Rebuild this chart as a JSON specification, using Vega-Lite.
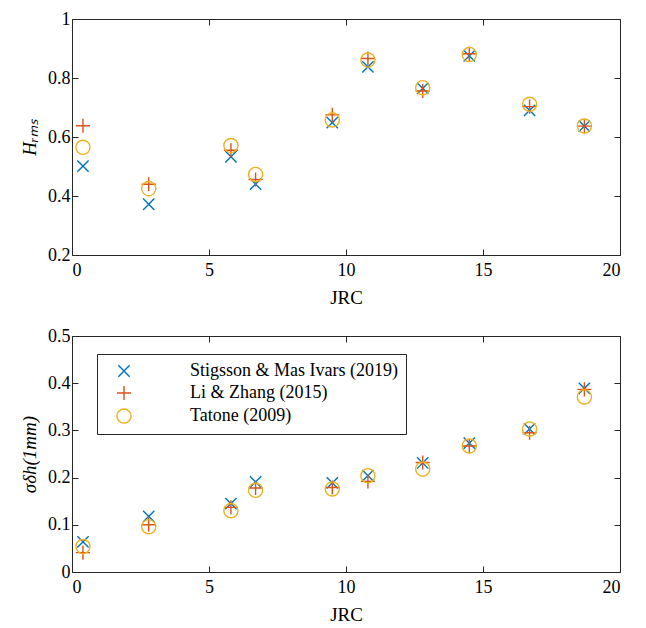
{
  "$schema": "https://vega.github.io/schema/vega-lite/v6.json",
  "background": "white",
  "padding": {"left": 20, "top": 10, "right": 5, "bottom": 5},
  "spacing": 20,
  "resolve": {"legend": {"color": "independent", "shape": "independent"}},
  "config": {
    "view": {"stroke": null},
    "font": "Liberation Serif, Times New Roman, serif",
    "axis": {
      "grid": false,
      "domainColor": "#262626",
      "domainWidth": 1,
      "tickColor": "#262626",
      "tickSize": -6,
      "labelFont": "Liberation Serif, Times New Roman, serif",
      "labelFontSize": 18,
      "labelColor": "#000000",
      "labelPadding": 8,
      "titleFont": "Liberation Serif, Times New Roman, serif",
      "titleFontSize": 19,
      "titleFontWeight": "normal",
      "titleColor": "#000000"
    }
  },
  "datasets": {
    "pts": [
      {"jrc": 0.4, "series": "Stigsson & Mas Ivars (2019)", "hrms": 0.501, "sdh": 0.064},
      {"jrc": 0.4, "series": "Li & Zhang (2015)", "hrms": 0.638, "sdh": 0.041},
      {"jrc": 0.4, "series": "Tatone (2009)", "hrms": 0.565, "sdh": 0.054},
      {"jrc": 2.8, "series": "Stigsson & Mas Ivars (2019)", "hrms": 0.372, "sdh": 0.118},
      {"jrc": 2.8, "series": "Li & Zhang (2015)", "hrms": 0.44, "sdh": 0.1},
      {"jrc": 2.8, "series": "Tatone (2009)", "hrms": 0.425, "sdh": 0.096},
      {"jrc": 5.8, "series": "Stigsson & Mas Ivars (2019)", "hrms": 0.533, "sdh": 0.145},
      {"jrc": 5.8, "series": "Li & Zhang (2015)", "hrms": 0.555, "sdh": 0.137},
      {"jrc": 5.8, "series": "Tatone (2009)", "hrms": 0.571, "sdh": 0.13},
      {"jrc": 6.7, "series": "Stigsson & Mas Ivars (2019)", "hrms": 0.44, "sdh": 0.191},
      {"jrc": 6.7, "series": "Li & Zhang (2015)", "hrms": 0.456, "sdh": 0.178},
      {"jrc": 6.7, "series": "Tatone (2009)", "hrms": 0.473, "sdh": 0.173},
      {"jrc": 9.5, "series": "Stigsson & Mas Ivars (2019)", "hrms": 0.649, "sdh": 0.189},
      {"jrc": 9.5, "series": "Li & Zhang (2015)", "hrms": 0.675, "sdh": 0.179},
      {"jrc": 9.5, "series": "Tatone (2009)", "hrms": 0.658, "sdh": 0.176},
      {"jrc": 10.8, "series": "Stigsson & Mas Ivars (2019)", "hrms": 0.838, "sdh": 0.204},
      {"jrc": 10.8, "series": "Li & Zhang (2015)", "hrms": 0.866, "sdh": 0.192},
      {"jrc": 10.8, "series": "Tatone (2009)", "hrms": 0.861, "sdh": 0.204},
      {"jrc": 12.8, "series": "Stigsson & Mas Ivars (2019)", "hrms": 0.765, "sdh": 0.231},
      {"jrc": 12.8, "series": "Li & Zhang (2015)", "hrms": 0.756, "sdh": 0.232},
      {"jrc": 12.8, "series": "Tatone (2009)", "hrms": 0.767, "sdh": 0.218},
      {"jrc": 14.5, "series": "Stigsson & Mas Ivars (2019)", "hrms": 0.875, "sdh": 0.273},
      {"jrc": 14.5, "series": "Li & Zhang (2015)", "hrms": 0.882, "sdh": 0.267},
      {"jrc": 14.5, "series": "Tatone (2009)", "hrms": 0.88, "sdh": 0.267},
      {"jrc": 16.7, "series": "Stigsson & Mas Ivars (2019)", "hrms": 0.69, "sdh": 0.303},
      {"jrc": 16.7, "series": "Li & Zhang (2015)", "hrms": 0.703, "sdh": 0.295},
      {"jrc": 16.7, "series": "Tatone (2009)", "hrms": 0.711, "sdh": 0.303},
      {"jrc": 18.7, "series": "Stigsson & Mas Ivars (2019)", "hrms": 0.637, "sdh": 0.389},
      {"jrc": 18.7, "series": "Li & Zhang (2015)", "hrms": 0.637, "sdh": 0.387},
      {"jrc": 18.7, "series": "Tatone (2009)", "hrms": 0.637, "sdh": 0.371}
    ]
  },
  "vconcat": [
    {
      "width": 548,
      "height": 236,
      "data": {"name": "pts"},
      "resolve": {"axis": {"x": "independent", "y": "independent"}},
      "layer": [
        {
          "mark": {"type": "point", "filled": false, "strokeWidth": 1.4, "size": 200, "opacity": 1},
          "encoding": {
            "x": {"field": "jrc", "type": "quantitative", "scale": {"domain": [0, 20], "nice": false},
                  "axis": {"orient": "bottom", "values": [0, 5, 10, 15, 20], "title": "JRC", "titlePadding": 9, "labelPadding": 12}},
            "y": {"field": "hrms", "type": "quantitative", "scale": {"domain": [0.2, 1], "nice": false, "zero": false},
                  "axis": {"orient": "left", "values": [0.2, 0.4, 0.6, 0.8, 1], "format": ".1~f", "title": "Hᵣₘₛ", "titleFontStyle": "italic", "titlePadding": 8}},
            "color": {"field": "series", "type": "nominal", "legend": null,
                      "scale": {"domain": ["Stigsson & Mas Ivars (2019)", "Li & Zhang (2015)", "Tatone (2009)"], "range": ["#0072BD", "#D95319", "#EDB120"]}},
            "shape": {"field": "series", "type": "nominal", "legend": null,
                      "scale": {"domain": ["Stigsson & Mas Ivars (2019)", "Li & Zhang (2015)", "Tatone (2009)"], "range": ["M-0.8,-0.8L0.8,0.8M-0.8,0.8L0.8,-0.8", "M-1,0L1,0M0,-1L0,1", "circle"]}}
          }
        },
        {
          "mark": {"type": "point", "opacity": 0},
          "encoding": {
            "x": {"field": "jrc", "type": "quantitative", "scale": {"domain": [0, 20], "nice": false},
                  "axis": {"orient": "top", "values": [0, 5, 10, 15, 20], "labels": false, "title": null}},
            "y": {"field": "hrms", "type": "quantitative", "scale": {"domain": [0.2, 1], "nice": false, "zero": false},
                  "axis": {"orient": "right", "values": [0.2, 0.4, 0.6, 0.8, 1], "labels": false, "title": null}}
          }
        }
      ]
    },
    {
      "width": 548,
      "height": 236,
      "data": {"name": "pts"},
      "resolve": {"axis": {"x": "independent", "y": "independent"}},
      "layer": [
        {
          "mark": {"type": "point", "filled": false, "strokeWidth": 1.4, "size": 200, "opacity": 1},
          "encoding": {
            "x": {"field": "jrc", "type": "quantitative", "scale": {"domain": [0, 20], "nice": false},
                  "axis": {"orient": "bottom", "values": [0, 5, 10, 15, 20], "title": "JRC", "titlePadding": 9, "labelPadding": 12}},
            "y": {"field": "sdh", "type": "quantitative", "scale": {"domain": [0, 0.5], "nice": false},
                  "axis": {"orient": "left", "values": [0, 0.1, 0.2, 0.3, 0.4, 0.5], "format": ".1~f", "title": "σδh(1mm)", "titleFontStyle": "italic", "titlePadding": 8}},
            "color": {"field": "series", "type": "nominal",
                      "scale": {"domain": ["Stigsson & Mas Ivars (2019)", "Li & Zhang (2015)", "Tatone (2009)"], "range": ["#0072BD", "#D95319", "#EDB120"]},
                      "legend": {"orient": "none", "legendX": 25, "legendY": 18, "title": null,
                                 "strokeColor": "#262626", "fillColor": "white", "padding": 8,
                                 "labelFont": "Liberation Serif, Times New Roman, serif", "labelFontSize": 18, "labelColor": "#000000",
                                 "symbolSize": 200, "symbolStrokeWidth": 1.4, "symbolOffset": 10, "labelOffset": 57,
                                 "rowPadding": 3, "labelLimit": 400}},
            "shape": {"field": "series", "type": "nominal",
                      "scale": {"domain": ["Stigsson & Mas Ivars (2019)", "Li & Zhang (2015)", "Tatone (2009)"], "range": ["M-0.8,-0.8L0.8,0.8M-0.8,0.8L0.8,-0.8", "M-1,0L1,0M0,-1L0,1", "circle"]},
                      "legend": {"orient": "none", "legendX": 25, "legendY": 18, "title": null,
                                 "strokeColor": "#262626", "fillColor": "white", "padding": 8,
                                 "labelFont": "Liberation Serif, Times New Roman, serif", "labelFontSize": 18, "labelColor": "#000000",
                                 "symbolSize": 200, "symbolStrokeWidth": 1.4, "symbolOffset": 10, "labelOffset": 57,
                                 "rowPadding": 3, "labelLimit": 400}}
          }
        },
        {
          "mark": {"type": "point", "opacity": 0},
          "encoding": {
            "x": {"field": "jrc", "type": "quantitative", "scale": {"domain": [0, 20], "nice": false},
                  "axis": {"orient": "top", "values": [0, 5, 10, 15, 20], "labels": false, "title": null}},
            "y": {"field": "sdh", "type": "quantitative", "scale": {"domain": [0, 0.5], "nice": false},
                  "axis": {"orient": "right", "values": [0, 0.1, 0.2, 0.3, 0.4, 0.5], "labels": false, "title": null}}
          }
        }
      ]
    }
  ]
}
